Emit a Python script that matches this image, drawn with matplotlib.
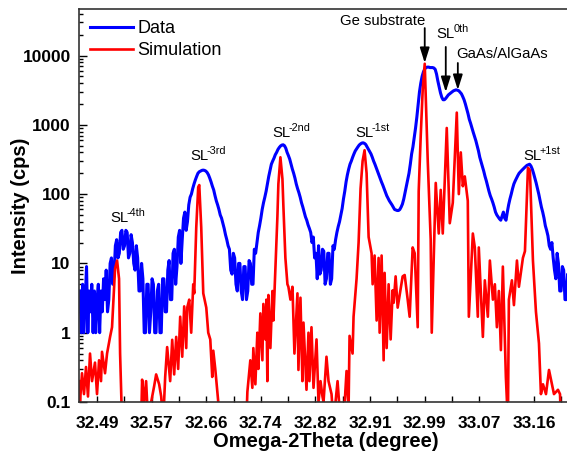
import numpy as np
import matplotlib.pyplot as plt
from matplotlib.ticker import FixedLocator, FixedFormatter, LogLocator, NullFormatter

plt.rcParams["font.family"] = "Liberation Sans"

# measured scan (cps), one point every 0.002 deg starting at 32.464
data_y = [
    4, 1, 5, 1, 3, 9, 1, 4, 2, 5, 1, 4, 1, 3, 5, 1, 4, 2, 6, 3,
    8, 2, 3, 10, 12, 5, 7, 18, 22, 12, 14, 28, 30, 16, 18, 30, 28, 12, 14, 26,
    20, 10, 8, 18, 12, 4, 4, 10, 6, 1, 1, 5, 5, 1, 2, 6, 5, 1, 1, 4,
    5, 1, 1, 6, 6, 2, 2, 8, 11, 3, 3, 14, 16, 5, 9, 24, 30, 10, 22, 45,
    55, 30, 40, 70, 90, 100, 120, 140, 160, 180, 200, 210, 215, 220, 222, 220, 215, 205, 190, 170,
    150, 130, 115, 95, 80, 70, 60, 50, 45, 38, 32, 26, 22, 18, 16, 8, 7, 14, 12, 5,
    4, 10, 10, 4, 3, 9, 9, 3, 4, 11, 10, 5, 5, 16, 14, 20, 28, 35, 45, 60,
    75, 90, 110, 140, 180, 220, 270, 300, 330, 370, 400, 440, 470, 495, 510, 515, 500, 460, 400, 360,
    320, 270, 230, 200, 170, 140, 120, 105, 90, 75, 65, 55, 47, 42, 36, 32, 28, 20, 24, 12,
    14, 6, 18, 7, 8, 16, 15, 5, 6, 14, 14, 5, 6, 18, 16, 22, 28, 34, 40, 50,
    62, 85, 110, 150, 190, 230, 270, 300, 340, 380, 420, 450, 480, 510, 530, 545, 550, 540, 520, 480,
    440, 410, 380, 340, 300, 270, 240, 215, 190, 170, 150, 135, 120, 107, 95, 87, 80, 75, 70, 65,
    60, 59, 58, 58, 60, 65, 72, 85, 105, 130, 160, 200, 270, 380, 480, 650, 900, 1300, 2000, 3000,
    4000, 5000, 5800, 6400, 6700, 6800, 6800, 6700, 6700, 6700, 6600, 6300, 5400, 4300, 3500, 2900, 2500, 2300, 2300, 2400,
    2550, 2700, 2800, 2900, 3000, 3100, 3150, 3200, 3150, 3100, 2950, 2800, 2550, 2300, 2000, 1700, 1450, 1200, 1050, 900,
    780, 680, 590, 500, 420, 340, 290, 250, 215, 180, 155, 130, 110, 95, 85, 75, 65, 55, 50, 47,
    44, 42, 48, 55, 45, 42, 55, 70, 85, 100, 120, 140, 155, 170, 185, 200, 210, 220, 230, 240,
    250, 260, 265, 270, 255, 230, 200, 170, 145, 120, 100, 80, 65, 55, 45, 35, 30, 25, 18, 16,
    20, 12, 8, 6, 14, 10, 4, 4, 9, 8, 3, 3, 7, 5,
]
data_x = np.round(32.464 + 0.002 * np.arange(len(data_y)), 4)

# simulated curve (cps)
sim_x = [
    32.4625, 32.4640, 32.4671, 32.4701, 32.4732, 32.4762, 32.4793, 32.4824,
    32.4869, 32.4900, 32.4931, 32.4961, 32.4976, 32.5022, 32.5053, 32.5099,
    32.5129, 32.5175, 32.5206, 32.5236, 32.5252, 32.5282,
    32.5573, 32.5588, 32.5619, 32.5649, 32.5680, 32.5726, 32.5772, 32.5802,
    32.5848, 32.5879, 32.5909, 32.5940, 32.5970, 32.6016, 32.6047, 32.6077,
    32.6108, 32.6138, 32.6169, 32.6200, 32.6230, 32.6261, 32.6276, 32.6307,
    32.6337, 32.6368, 32.6383, 32.6414, 32.6444, 32.6460, 32.6490, 32.6521,
    32.6567, 32.6597, 32.6628, 32.6658, 32.6674, 32.6704, 32.6735, 32.6750,
    32.6781,
    32.7178, 32.7194, 32.7239, 32.7270, 32.7285, 32.7316, 32.7346, 32.7362,
    32.7392, 32.7423, 32.7438, 32.7469, 32.7484, 32.7499, 32.7515, 32.7545,
    32.7576, 32.7591, 32.7622, 32.7652, 32.7667, 32.7698, 32.7729, 32.7744,
    32.7774, 32.7805, 32.7820, 32.7851, 32.7882, 32.7912, 32.7958, 32.7973,
    32.8004, 32.8034, 32.8050, 32.8096, 32.8126, 32.8141, 32.8172, 32.8203,
    32.8249, 32.8279, 32.8310, 32.8340, 32.8356, 32.8401, 32.8432, 32.8478,
    32.8508, 32.8570, 32.8600, 32.8661, 32.8707, 32.8738, 32.8753, 32.8799,
    32.8814, 32.8860, 32.8891, 32.8921, 32.8952, 32.8982, 32.9013, 32.9044,
    32.9089, 32.9105, 32.9135, 32.9166, 32.9196, 32.9212, 32.9242, 32.9273,
    32.9288, 32.9319, 32.9349, 32.9380, 32.9411, 32.9426, 32.9456, 32.9487,
    32.9518, 32.9563, 32.9594, 32.9640, 32.9670, 32.9716, 32.9747, 32.9793,
    32.9808, 32.9839, 32.9869, 32.9900, 32.9946, 32.9991, 33.0007, 33.0068,
    33.0114, 33.0144, 33.0175, 33.0236, 33.0282, 33.0328, 33.0389, 33.0420,
    33.0450, 33.0481, 33.0511, 33.0557, 33.0573, 33.0634, 33.0664, 33.0710,
    33.0725, 33.0787, 33.0817, 33.0863, 33.0894, 33.0940, 33.0970, 33.1001,
    33.1031, 33.1062, 33.1092, 33.1138, 33.1169, 33.1184, 33.1230, 33.1261,
    33.1307, 33.1337, 33.1398, 33.1429, 33.1475, 33.1505, 33.1551, 33.1597,
    33.1643, 33.1673, 33.1704, 33.1750, 33.1796, 33.1842, 33.1872, 33.1933,
    33.1964, 33.1979,
]
sim_y = [
    0.2, 0.1, 0.26, 0.13, 0.32, 0.12, 0.5, 0.2,
    0.37, 0.13, 0.4, 0.2, 0.53, 0.26, 0.5, 0.87,
    1.2, 8.4, 11, 6, 0.5, 0.05,
    0.05, 0.21, 0.1, 0.2, 0.05, 0.1, 0.17, 0.25,
    0.18, 0.12, 0.05, 0.23, 0.62, 0.2, 0.79, 0.25,
    0.87, 0.3, 1.7, 0.45, 2.4, 0.6, 2.3, 3,
    1, 5, 3.7, 33, 126, 135, 33, 3.7,
    2.3, 1, 0.8, 0.23, 0.55, 0.3, 0.14, 0.1,
    0.05,
    0.05, 0.14, 0.4, 0.16, 0.6, 0.18, 1, 0.3,
    1.9, 0.4, 2.6, 0.8, 3, 0.2, 3.5, 0.6,
    4, 1.5, 9, 47, 140, 340, 165, 65,
    12, 5, 4.6, 3, 4.6, 0.5, 3.7, 0.29,
    3.2, 0.2, 1.4, 0.15, 1, 0.2, 1.2, 0.16,
    0.8, 0.1, 0.2, 0.12, 0.1, 0.45, 0.2, 0.13,
    0.05, 0.2, 0.08, 0.05, 0.28, 0.08, 0.9, 0.5,
    1.7, 6, 20, 120, 300, 430, 200, 24,
    14, 5, 13, 1.5, 12, 1, 13, 0.4,
    7.3, 0.6, 5, 0.8, 4.1, 2.7, 6.5, 2.3,
    3.5, 6.5, 6.8, 3, 1.7, 17, 14, 1.2,
    110, 700, 3200, 7600, 300, 22, 1, 145,
    27, 115, 27, 900, 38, 75, 1500, 100,
    400, 130, 180, 80, 1.7, 27, 17, 1.7,
    17, 0.87, 5.7, 1.7, 11, 3, 5, 1.2,
    4, 0.56, 9, 0.23, 0.05, 3, 5.7, 2.5,
    11, 4.6, 12, 15, 240, 220, 11, 2,
    0.7, 0.13, 0.18, 0.13, 0.29, 0.18, 0.13, 0.15,
    0.13, 0.05,
]

xtick_labels = ["32.49", "32.57", "32.66", "32.74", "32.82",
                "32.91", "32.99", "33.07", "33.16"]
ytick_vals = [0.1, 1, 10, 100, 1000, 10000]
ytick_labels = ["0.1", "1", "10", "100", "1000", "10000"]


def sl_label(ax, x, y, sup):
    # "SL" with a small raised order label, split at x
    ax.text(x, y, "SL", ha="right", va="baseline", fontsize=10.7)
    ax.annotate(sup, xy=(x, y), xytext=(-1.2, 4.6), textcoords="offset points",
                ha="left", va="baseline", fontsize=7.8)


def main():
    fig = plt.figure(figsize=(5.67, 4.54), dpi=100)
    ax = fig.add_axes([79 / 567, 1 - 402 / 454, (572 - 79) / 567, 393 / 454])

    ax.plot(data_x, data_y, color="#0000ff", lw=2.2, label="Data")
    ax.plot(sim_x, sim_y, color="#ff0000", lw=1.9, label="Simulation")

    ax.set_yscale("log")
    ax.set_xlim(32.4625, 33.2147)
    ax.set_ylim(0.1, 46900)

    xt = 32.49 + np.arange(len(xtick_labels)) / 12
    ax.xaxis.set_major_locator(FixedLocator(xt))
    ax.xaxis.set_major_formatter(FixedFormatter(xtick_labels))
    ax.xaxis.set_minor_locator(FixedLocator(xt + 1 / 24))
    ax.yaxis.set_major_locator(FixedLocator(ytick_vals))
    ax.yaxis.set_major_formatter(FixedFormatter(ytick_labels))
    ax.yaxis.set_minor_locator(LogLocator(base=10, subs=np.arange(2, 10)))
    ax.yaxis.set_minor_formatter(NullFormatter())

    ax.tick_params(axis="both", which="both", direction="in", width=1.0,
                   labelsize=12.5)
    ax.tick_params(axis="x", which="both", length=4, pad=10)
    ax.tick_params(axis="y", which="major", length=6, pad=6)
    ax.tick_params(axis="y", which="minor", length=3)
    for lab in ax.get_xticklabels() + ax.get_yticklabels():
        lab.set_fontweight("bold")
    for sp in ax.spines.values():
        sp.set_linewidth(1.2)
        sp.set_color("#333333")

    ax.set_xlabel("Omega-2Theta (degree)", fontsize=14.5, fontweight="bold", labelpad=1)
    ax.set_ylabel("Intensity (cps)", fontsize=14.5, fontweight="bold")
    ax.yaxis.set_label_coords(-49 / 493, 0.5)

    ax.legend(loc="upper left", frameon=False, fontsize=13, handlelength=2.4,
              handletextpad=0.25, labelspacing=0.3, borderpad=0.25,
              borderaxespad=0.35)

    # peak labels
    sl_label(ax, 32.5374, 39.5, "-4th")
    sl_label(ax, 32.6597, 310, "-3rd")
    sl_label(ax, 32.7851, 667, "-2nd")
    sl_label(ax, 32.9120, 667, "-1st")
    sl_label(ax, 33.1674, 310, "+1st")
    sl_label(ax, 33.0359, 17900, "0th")
    ax.text(32.9258, 27500, "Ge substrate", ha="center", va="baseline", fontsize=10.7)
    ax.text(33.1077, 9200, "GaAs/AlGaAs", ha="center", va="baseline", fontsize=10.7)

    arrow = dict(arrowstyle="-|>,head_length=0.7,head_width=0.22", color="black",
                 lw=1.3, mutation_scale=13, shrinkA=0, shrinkB=0)
    ax.annotate("", xy=(32.99, 7800), xytext=(32.99, 24900), arrowprops=arrow)
    ax.annotate("", xy=(33.0221, 2970), xytext=(33.0221, 13300), arrowprops=arrow)
    ax.annotate("", xy=(33.0405, 3180), xytext=(33.0405, 7800), arrowprops=arrow)

    fig.savefig("out.png", dpi=100)


if __name__ == "__main__":
    main()
